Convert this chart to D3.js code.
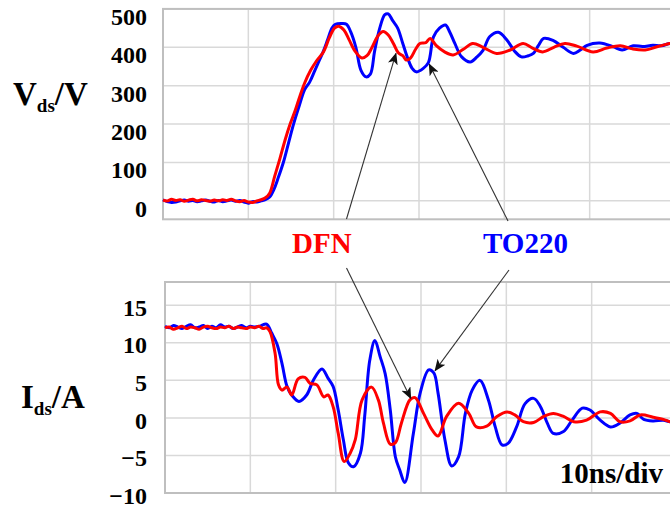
<!DOCTYPE html>
<html>
<head>
<meta charset="utf-8">
<script src="https://cdn.jsdelivr.net/npm/d3@7"></script>
<style>
  body { margin: 0; background: #fff; }
  svg { display: block; }
</style>
</head>
<body>
<svg id="chart"></svg>
<script>
// time axis (ns), 10ns/div
const timeTicks = [0, 10, 20, 30, 40, 50, 60];
const vdsTicks = [0, 100, 200, 300, 400, 500];
const idsTicks = [-10, -5, 0, 5, 10, 15];

// Vds, TO220 (blue)
const vdsToT = [0,0.5,1,1.5,2,2.5,3,3.5,4,4.5,5,5.5,6,6.5,7,7.5,8,8.5,9,9.5,10,10.5,11,11.5,12,
  12.5,13,13.5,14.1,14.7,15.3,16,16.6,17.2,17.8,18.3,18.8,19.3,19.8,20.2,21,21.5,22,22.6,23.2,23.8,24.3,24.8,25.4,26,26.4,26.9,27.5,28.1,28.7,29.2,
  29.7,30.5,31.1,31.7,32.4,33.1,33.6,34.2,35,36,36.8,37.5,38.3,39.3,40.3,41.2,42,42.8,43.4,44,44.6,45.7,46.9,48.1,48.9,49.7,51.2,52.8,53.8,55.1,56.2,57.4,58.4,59.4,60];
const vdsToV = [3,-2,-4,-3,0,2,-1,1,-2,0,2,-1,-3,1,-2,0,2,-1,1,-3,-6,-2,-3,0,3,
  10,30,60,100,150,200,250,290,310,340,365,390,420,450,460,462,460,440,400,340,323,330,390,450,485,487,470,450,410,370,345,
  336,345,360,427,450,458,440,410,375,362,375,392,428,439,419,390,375,378,384,405,423,418,400,384,393,405,411,401,393,404,402,405,404,410,410];

// Vds, DFN (red)
const vdsDfnT = [0,0.5,1,1.5,2,2.5,3,3.5,4,4.5,5,5.5,6,6.5,7,7.5,8,8.5,9,9.5,10,10.5,11,11.5,12,
  12.5,13.1,13.7,14.3,14.9,15.5,16,16.6,17.3,18,18.8,19.5,20.1,20.6,21.2,21.8,22.5,23.3,23.9,24.5,25.2,25.8,26.4,27,27.6,28.1,28.5,29,29.6,30.1,30.8,31.3,
  32,33,34,35.2,36.3,37.5,39.1,40.7,42.2,43.3,44.5,45.8,47.1,48.5,50.4,52,53.6,55,56.5,58,59.4,60];
const vdsDfnV = [2,0,4,1,3,-1,2,4,0,3,1,-1,2,0,3,1,4,0,-2,1,-3,-4,0,3,8,
  20,65,110,158,200,236,270,307,340,365,388,425,450,455,445,420,390,372,378,400,430,441,432,410,385,378,367,372,395,410,412,423,
  405,388,380,395,410,400,384,393,410,398,388,400,410,403,388,398,404,396,393,402,410,412];

// Ids, TO220 (blue)
const idsToT = [0,0.5,1,1.5,2,2.5,3,3.5,4,4.5,5,5.5,6,6.5,7,7.5,8,8.5,9,9.5,10,10.5,11.1,11.9,
  12.5,13.1,13.7,14.3,14.85,15.7,16.6,17.4,18.4,19.1,19.7,20.3,20.9,21.5,22.1,22.9,23.4,24,24.6,25.2,25.8,26.4,27,27.5,28.1,
  29.1,29.9,30.9,31.5,32,32.8,33.6,34.4,35.2,36,36.9,37.9,38.7,39.5,40.2,41.2,42.2,43.2,44,44.8,45.5,46.7,47.7,48.9,49.8,51,52.2,53.3,54.5,55.3,56.1,57.2,58.4,59.2,60];
const idsToV = [12.2,12.0,12.3,12.1,11.9,12.2,12.4,12.0,12.1,12.3,11.9,12.2,12.0,12.4,12.1,12.2,11.9,12.1,12.3,12.0,12.2,12.1,12.2,12.5,
  11.3,9.9,7.3,4.2,3.05,2.2,3.05,5.05,6.5,5.3,4.2,1.05,-2.9,-6.0,-6.5,-4.7,0.2,7.7,10.3,8.2,5.9,1.05,-5.2,-6.9,-8.6,
  -2.1,3.3,6.4,6.0,3.3,-2.9,-6.4,-5.2,0.6,3.7,5.0,2.4,-1.2,-3.6,-3.4,-1.2,1.9,2.6,1.5,-0.7,-2.05,-1.8,-0.3,1.3,1.05,-0.3,-1.2,-0.7,0.4,0.6,-0.2,-0.4,-0.3,-0.5,-0.4];

// Ids, DFN (red)
const idsDfnT = [0,0.5,1,1.5,2,2.5,3,3.5,4,4.5,5,5.5,6,6.5,7,7.5,8,8.5,9,9.5,10,10.5,11,11.5,11.9,
  12.3,12.9,13.3,13.7,14.3,14.85,15.6,16.4,17,17.8,18.6,19.1,19.7,20.3,21,21.7,22.3,23.1,24.2,25,25.6,26.4,27,27.7,28.7,29.3,
  30.3,31.3,32,33,34.4,35.6,36.5,37.7,38.9,40.1,41,42,43.2,44.4,45.5,46.7,47.9,49.4,51,52.2,53.3,54.5,55.7,57.2,58.4,59.2,60];
const idsDfnV = [12.0,12.1,11.8,12.0,12.2,11.9,12.1,12.0,11.8,12.1,12.2,12.0,11.9,12.1,12.0,12.2,11.9,12.1,12.0,11.9,12.1,12.0,12.2,11.9,12.0,
  11.5,8.6,4.4,3.7,4.1,3.05,5.2,5.4,4.6,4.4,2.8,3.05,1.5,-2.05,-5.8,-4.7,-2.9,2.4,4.1,2.4,-0.7,-3.5,-3.3,-0.7,2.4,2.7,
  0.6,-1.6,-2.4,0.2,1.95,0.6,-1.2,-1.1,0.2,0.8,0.4,-0.5,-0.6,0.2,0.6,0.2,-0.5,-0.3,0.8,0.6,-0.5,-0.4,0.4,0.1,-0.2,-0.5,-0.4];

const width = 670;
const height = 511;
const blue = "#0000ff";
const red = "#ff0000";
const gridColor = "#d9d9d9";
const frameColor = "#bfbfbf";
const serif = "'Liberation Serif', 'Times New Roman', serif";

const svg = d3.select("#chart").attr("width", width).attr("height", height);

svg.append("defs").append("marker")
    .attr("id", "head")
    .attr("markerUnits", "userSpaceOnUse")
    .attr("viewBox", "0 0 12 10")
    .attr("refX", 11).attr("refY", 5)
    .attr("markerWidth", 12).attr("markerHeight", 10)
    .attr("orient", "auto")
  .append("path")
    .attr("d", "M0,0 L12,5 L0,10 L3,5 Z")
    .attr("fill", "#111");

//scales
const xTop = d3.scaleLinear().domain([0, 60]).range([163, 675]);
const yTop = d3.scaleLinear().domain([-48, 500]).range([219.3, 8.9]);
const xBot = d3.scaleLinear().domain([0, 60]).range([165, 677]);
const yBot = d3.scaleLinear().domain([-10, 18.1]).range([493, 282]);

function panel(x, y, yTicks, labelDy) {
  const g = svg.append("g");
  // grid
  g.append("g").selectAll("line").data(yTicks).join("line")
      .attr("x1", x.range()[0]).attr("x2", x.range()[1])
      .attr("y1", d => y(d)).attr("y2", d => y(d))
      .attr("stroke", gridColor).attr("stroke-width", 1.5);
  g.append("g").selectAll("line").data(timeTicks.slice(1)).join("line")
      .attr("x1", d => x(d)).attr("x2", d => x(d))
      .attr("y1", y.range()[0]).attr("y2", y.range()[1])
      .attr("stroke", gridColor).attr("stroke-width", 1.5);
  // frame
  g.append("rect")
      .attr("x", x.range()[0]).attr("y", y.range()[1])
      .attr("width", x.range()[1] - x.range()[0])
      .attr("height", y.range()[0] - y.range()[1])
      .attr("fill", "none").attr("stroke", frameColor).attr("stroke-width", 2);
  // tick labels
  const axis = d3.axisLeft(y).tickValues(yTicks).tickSize(0).tickPadding(0);
  const ax = g.append("g").attr("transform", "translate(147,0)").call(axis);
  ax.select(".domain").remove();
  ax.selectAll("text")
      .attr("dy", labelDy)
      .style("font-family", serif)
      .style("font-weight", "bold")
      .style("font-size", "24px")
      .attr("fill", "#000");
  return g;
}

panel(xTop, yTop, vdsTicks, "0.64em");
panel(xBot, yBot, idsTicks, "0.42em");

function trace(x, y, ts, vs, color) {
  const line = d3.line()
      .x(i => x(ts[i]))
      .y(i => y(vs[i]))
      .curve(d3.curveCatmullRom.alpha(0.5));
  svg.append("path")
      .attr("d", line(d3.range(ts.length)))
      .attr("fill", "none")
      .attr("stroke", color)
      .attr("stroke-width", 3)
      .attr("stroke-linejoin", "round");
}

trace(xTop, yTop, vdsToT, vdsToV, blue);
trace(xTop, yTop, vdsDfnT, vdsDfnV, red);
trace(xBot, yBot, idsToT, idsToV, blue);
trace(xBot, yBot, idsDfnT, idsDfnV, red);

// axis titles
function title(x, y, main, unit) {
  const t = svg.append("text")
      .attr("x", x).attr("y", y)
      .style("font-family", serif)
      .style("font-weight", "bold")
      .style("font-size", "33px");
  t.append("tspan").text(main);
  t.append("tspan").attr("dy", 7).style("font-size", "19px").text("ds");
  t.append("tspan").attr("dy", -7).text("/" + unit);
}
title(13, 105, "V", "V");
title(21, 408, "I", "A");

// annotations
const labelStyle = (sel) => sel
    .style("font-family", serif)
    .style("font-weight", "bold")
    .style("font-size", "29px");

svg.append("text").attr("x", 292).attr("y", 253).attr("fill", red).text("DFN").call(labelStyle);
svg.append("text").attr("x", 483).attr("y", 253).attr("fill", blue).text("TO220").call(labelStyle);
svg.append("text").attr("x", 663).attr("y", 483).attr("text-anchor", "end").text("10ns/div").call(labelStyle);

const arrows = [
  { from: [346.5, 219], x: xTop, y: yTop, t: 27.3, v: 384 },
  { from: [508, 221], x: xTop, y: yTop, t: 31.2, v: 356 },
  { from: [346.5, 268], x: xBot, y: yBot, t: 28.8, v: 2.6 },
  { from: [509, 270], x: xBot, y: yBot, t: 31.65, v: 6.3 }
];

svg.append("g").selectAll("line").data(arrows).join("line")
    .attr("x1", d => d.from[0]).attr("y1", d => d.from[1])
    .attr("x2", d => d.x(d.t)).attr("y2", d => d.y(d.v))
    .attr("stroke", "#333").attr("stroke-width", 1.1)
    .attr("marker-end", "url(#head)");
</script>
</body>
</html>
